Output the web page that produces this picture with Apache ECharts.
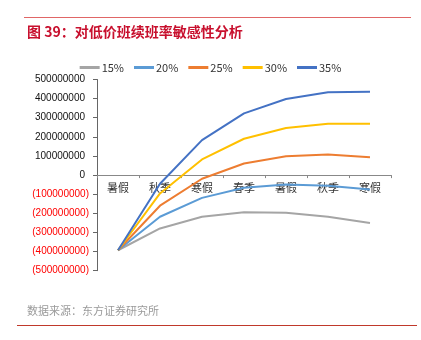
<!DOCTYPE html>
<html>
<head>
<meta charset="utf-8">
<script src="https://cdn.jsdelivr.net/npm/echarts@6/dist/echarts.min.js"></script>
<style>html,body{margin:0;padding:0;background:#fff}#c{width:421px;height:340px}</style>
</head>
<body>
<div id="c"></div>
<script>
var categories = ['暑假', '秋季', '寒假', '春季', '暑假', '秋季', '寒假'];
var seriesNames = ['15%', '20%', '25%', '30%', '35%'];
var s15 = [-393000000, -279000000, -218000000, -194000000, -197000000, -218000000, -250000000];
var s20 = [-393000000, -218000000, -119000000, -66000000, -49000000, -56000000, -75000000];
var s25 = [-393000000, -160000000, -19000000, 61000000, 99000000, 108000000, 94000000];
var s30 = [-393000000, -96000000, 82000000, 190000000, 246000000, 269000000, 269000000];
var s35 = [-393000000, -45000000, 183000000, 323000000, 398000000, 433000000, 436000000];
var colors = ['#A5A5A5', '#5B9BD5', '#ED7D31', '#FFC000', '#4472C4'];
var titleText = '图 39：对低价班续班率敏感性分析';
var sourceText = '数据来源：东方证券研究所';

var dataList = [s15, s20, s25, s30, s35];
var chart = echarts.init(document.getElementById('c'));
var font = '"Noto Sans CJK SC", "Liberation Sans", sans-serif';
chart.setOption({
  animation: false,
  color: colors,
  graphic: [
    {type: 'line', shape: {x1: 24, y1: 17.5, x2: 411, y2: 17.5}, style: {stroke: '#E06666', lineWidth: 1}},
    {type: 'text', left: 27, top: 25, style: {text: titleText, fill: '#C8102E', font: 'bold 14px ' + font}},
    {type: 'text', left: 27, top: 305, style: {text: sourceText, fill: '#9a9a9a', font: '11px ' + font}},
    {type: 'line', shape: {x1: 17, y1: 325.5, x2: 417, y2: 325.5}, style: {stroke: '#C0392B', lineWidth: 1}}
  ],
  legend: {
    top: 57, left: 'center',
    itemWidth: 20, itemHeight: 3, itemGap: 10,
    icon: 'rect',
    textStyle: {fontSize: 11, color: '#333', fontFamily: font, padding: [0, 0, 0, -3]},
    data: seriesNames
  },
  grid: {left: 97, right: 30, top: 79.5, bottom: 69.3},
  xAxis: {
    type: 'category',
    data: categories,
    boundaryGap: true,
    axisLine: {onZero: true, lineStyle: {color: '#888', width: 1}},
    axisTick: {show: true, inside: false, length: 3, lineStyle: {color: '#888'}},
    axisLabel: {fontSize: 11, color: '#333', fontFamily: font, margin: -88.5}
  },
  yAxis: {
    type: 'value',
    min: -500000000, max: 500000000, interval: 100000000,
    axisLine: {show: true, lineStyle: {color: '#666'}},
    axisTick: {show: true, length: 4, lineStyle: {color: '#666'}},
    splitLine: {show: false},
    axisLabel: {
      fontSize: 10, fontFamily: '"Liberation Sans", Arial, sans-serif', margin: 8,
      formatter: function (v) {
        if (v < 0) return '{neg|(' + (-v) + ')}';
        return '{pos|' + v + '}';
      },
      rich: {
        neg: {color: '#FF0000', fontSize: 10, fontFamily: '"Liberation Sans", Arial, sans-serif'},
        pos: {color: '#111', fontSize: 10, padding: [0, 4, 0, 0], fontFamily: '"Liberation Sans", Arial, sans-serif'}
      }
    }
  },
  series: seriesNames.map(function (n, i) {
    return {name: n, type: 'line', data: dataList[i], symbol: 'none', lineStyle: {width: 2}, z: 3};
  })
});
</script>
</body>
</html>
